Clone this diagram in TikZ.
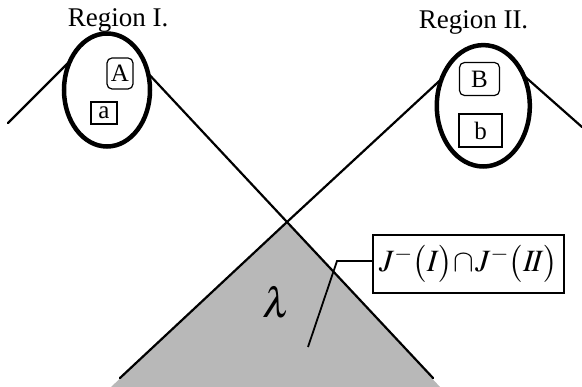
\documentclass[tikz,border=0pt]{standalone}
\usepackage{mathptmx}
\usepackage{fontspec}
\setmainfont{Liberation Serif}
\usetikzlibrary{positioning,calc}

\begin{document}
\begin{tikzpicture}[x=1pt, y=-1pt,
  cone/.style={line width=2.2pt, line cap=round},
  region/.style={line width=4.5pt, fill=white},
  letterbox/.style={rectangle, draw, line width=1.2pt, minimum width=26pt, minimum height=22pt, inner sep=0pt, font=\fontsize{25}{25}\selectfont},
  roundbox/.style={letterbox, rounded corners=5pt},
  regionlbl/.style={anchor=base, font=\fontsize{27}{27}\selectfont},
  leader/.style={line width=1.8pt}
]
  \useasboundingbox (0,0) rectangle (582,387);
  \coordinate (cross) at (287,222);
  \coordinate (leftfoot) at (120,378);
  \coordinate (rightfoot) at (433,378);
  \coordinate (tipI) at (130,54);
  \coordinate (tipII) at (462,60);
  \coordinate (edgeI) at (8,123);
  \coordinate (innerI) at (85,46);
  \coordinate (edgeII) at (582,127);
  \coordinate (innerII) at (505,59);

  \fill[black!28] (cross) -- (111,387) -- (440,387) -- cycle;
  \draw[cone] (leftfoot) -- (cross) -- (tipII);
  \draw[cone] (rightfoot) -- (cross) -- (tipI);
  \draw[cone] (edgeI) -- (innerI);
  \draw[cone] (edgeII) -- (innerII);

  \draw[region] (107,90) ellipse [x radius=43, y radius=56.5];
  \draw[region] (483.3,105.8) ellipse [x radius=46.5, y radius=60.7];

  \node[roundbox, minimum height=31pt] (bigA) at (120,73.5) {A};
  \node[letterbox] (smalla) at (104,113) {a};
  \node[roundbox, minimum width=40pt, minimum height=33pt] (bigB) at (479.5,79) {B};
  \node[letterbox, minimum width=43pt, minimum height=33pt] (smallb) at (480.5,130.5) {b};

  \node[regionlbl] (regI) at (118,27) {Region I.};
  \node[regionlbl] (regII) at (473.5,28.5) {Region II.};

  \node[font=\fontsize{42}{42}\selectfont] (lam) at (277,302) {$\lambda$};
  \node[draw, line width=1.4pt, minimum width=191pt, minimum height=58pt, inner sep=0pt,
    font=\fontsize{31}{31}\selectfont] (overlap) at (468.5,264) {$J^{-}\bigl(I\bigr)\!\cap\! J^{-}\bigl(I\!I\bigr)$};
  \coordinate (bend) at (337,261);
  \coordinate (point) at (308,347);
  \draw[leader] (point) -- (bend) -- (overlap.west |- bend);
\end{tikzpicture}
\end{document}
